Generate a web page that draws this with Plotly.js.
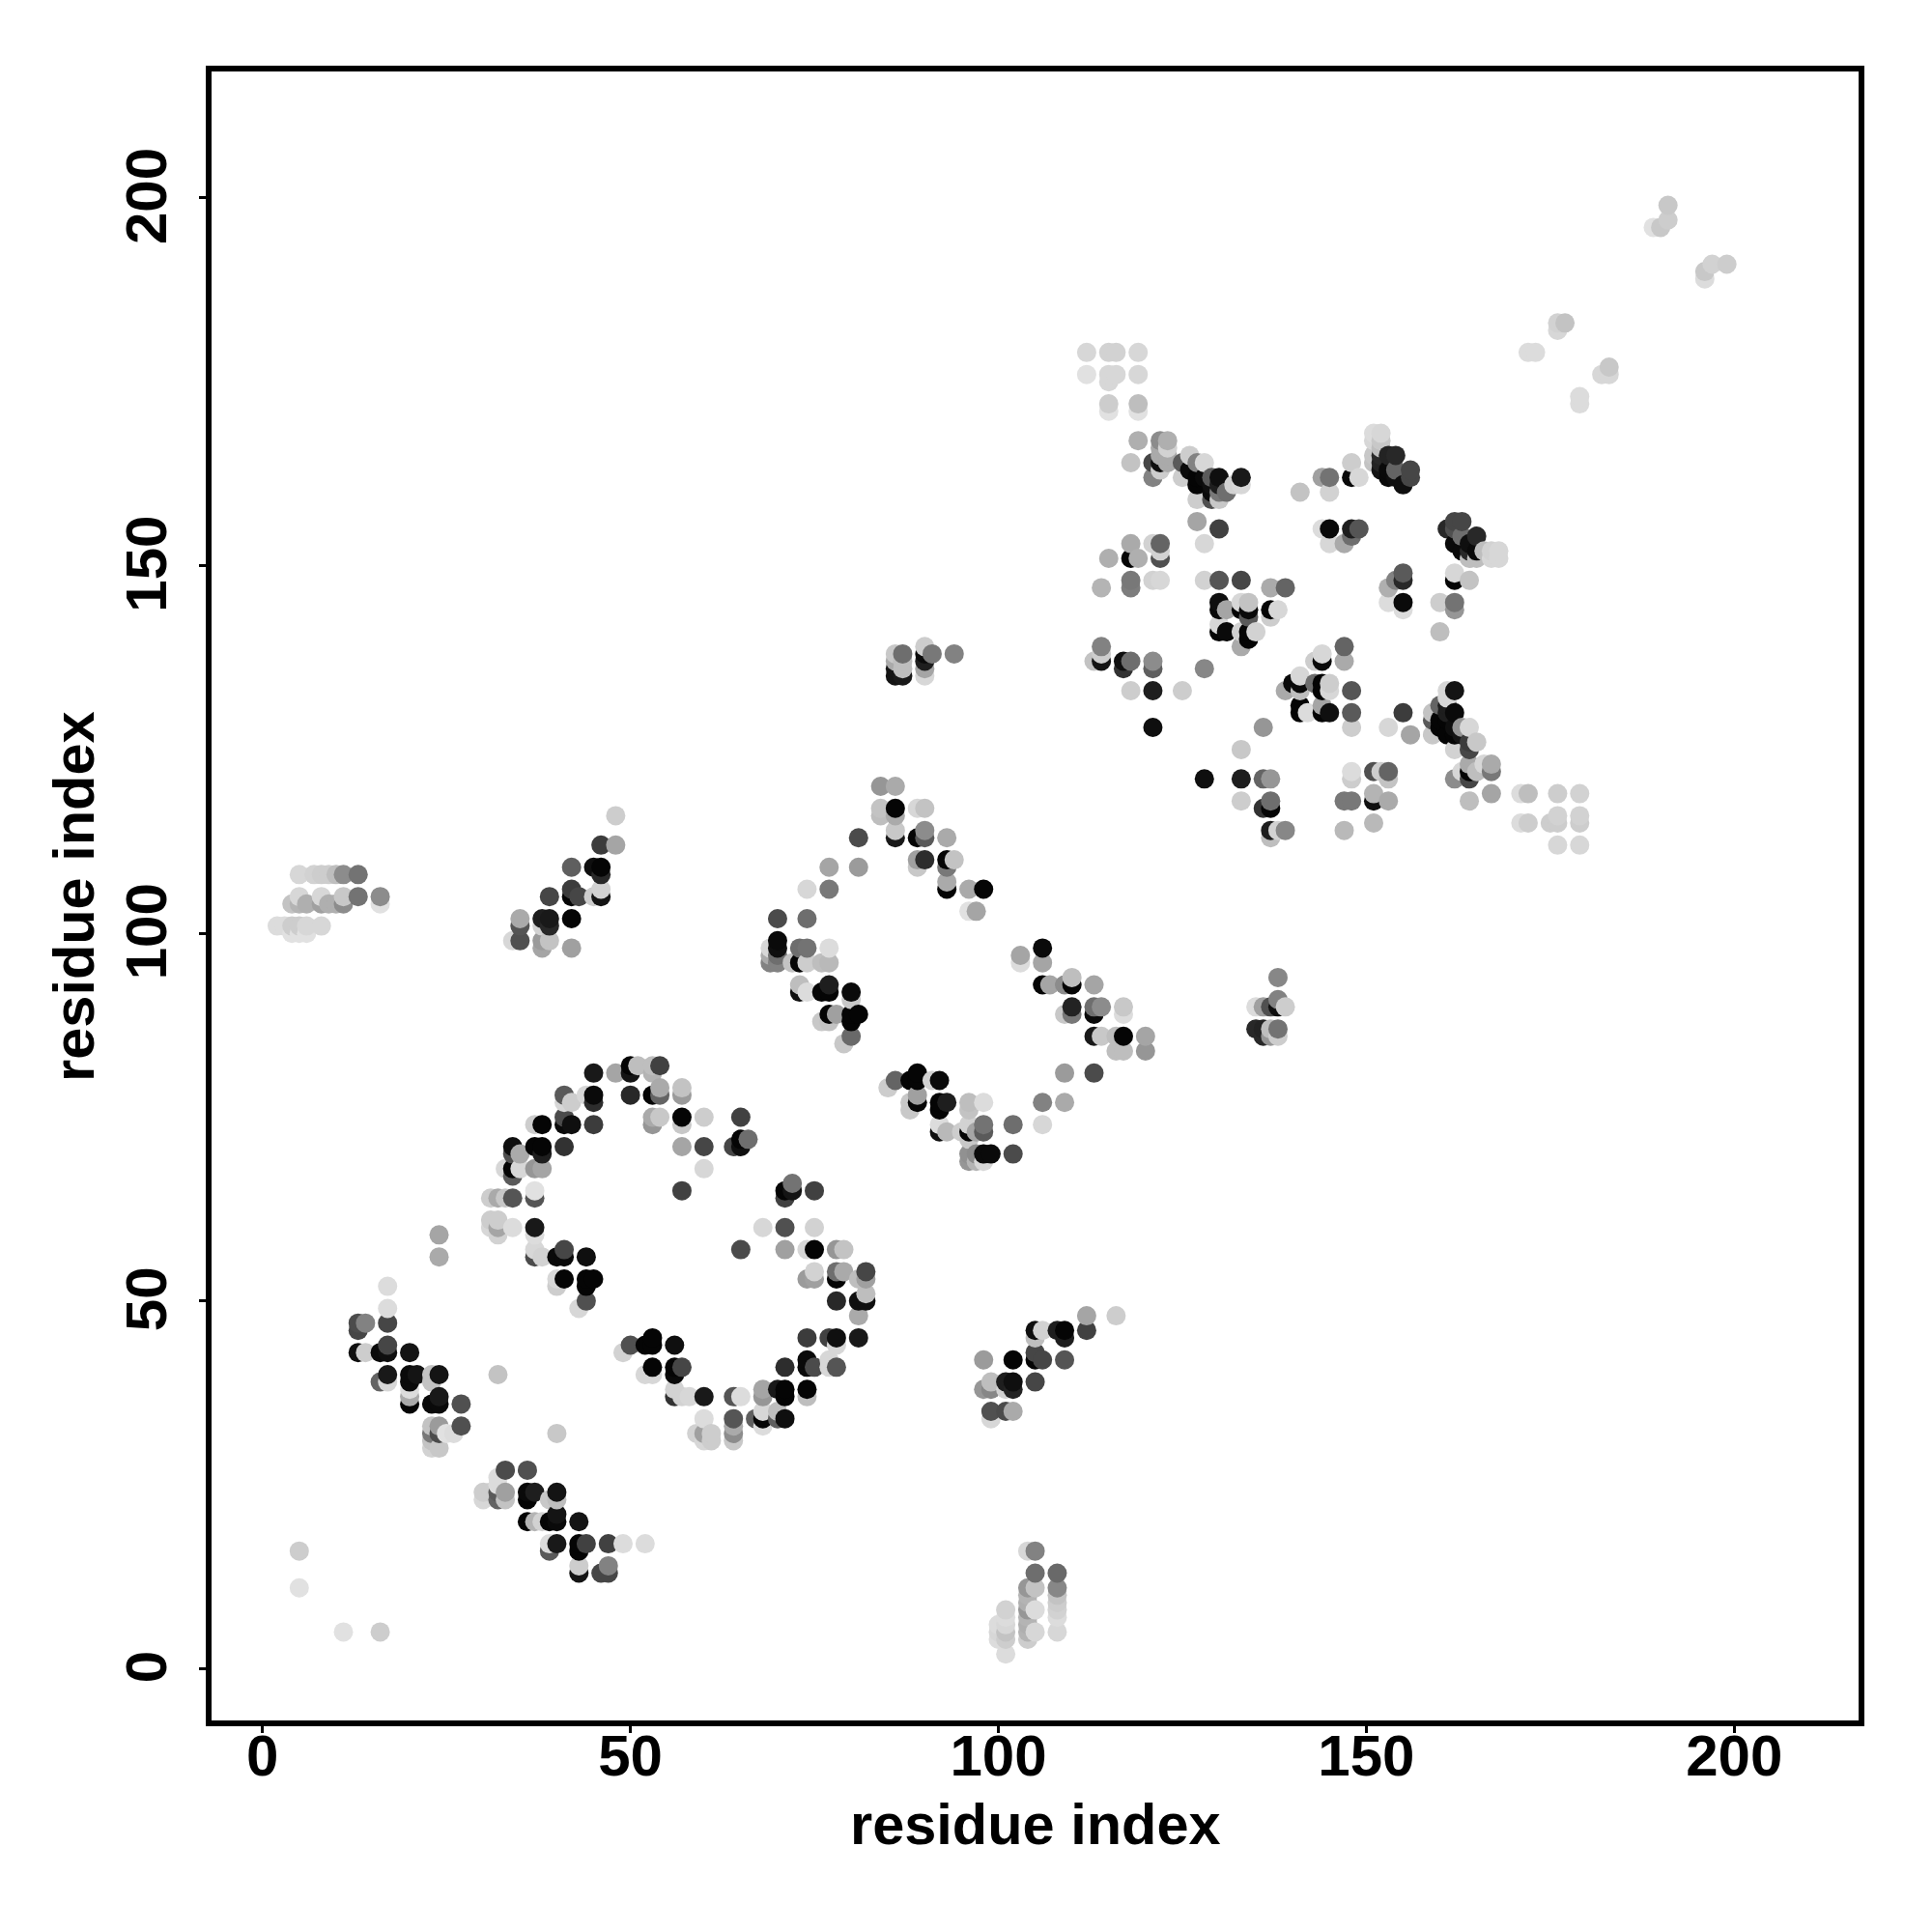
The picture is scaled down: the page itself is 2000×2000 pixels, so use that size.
<!DOCTYPE html>
<html><head><meta charset="utf-8">
<script src="https://cdn.plot.ly/plotly-3.0.1.min.js"></script>
<style>html,body{margin:0;padding:0;background:#fff}</style></head>
<body><div id="chart" style="width:2000px;height:2000px"></div>
<script>
// each entry: [residue i, residue j, grey level]
const lowLeftArm = [[24,59,165],[24,56,170],[17,52,220],[17,49,220],[17,47,70],[13,47,75],[13,46,70],[14,47,130],[13,43,15],[14,43,205],[16,43,10],[17,43,15],[17,44,70],[20,43,20],[17,40,25],[16,39,100],[17,39,215],[20,40,10],[21,40,20],[20,39,10],[20,38,220],[20,37,170],[20,36,5],[23,40,195],[23,39,195],[24,40,20],[23,36,10],[24,36,10],[24,37,25],[27,36,80],[27,33,80],[23,33,195],[24,33,155],[23,32,120],[24,32,75],[25,32,225],[26,32,220],[23,30,210],[24,30,200],[23,31,195]];
const lowStrand = [[32,40,195],[40,32,200],[33,27,75],[36,27,80],[32,26,220],[32,25,220],[30,24,205],[30,23,215],[31,24,205],[32,24,90],[32,23,100],[33,24,160],[33,23,195],[36,24,10],[37,24,30],[36,23,5],[39,23,200],[40,24,20],[40,23,190],[36,20,5],[37,20,180],[38,20,210],[39,20,5],[40,20,10],[40,21,20],[43,20,20],[39,17,220],[40,17,25],[39,16,90],[43,17,5],[43,16,5],[44,17,65],[47,17,65],[49,17,220],[52,17,220],[43,14,205],[43,13,20],[46,13,70],[47,13,70],[47,14,130],[5,16,205],[5,11,225],[11,5,225],[16,5,205]];
const innerRing = [[31,61,205],[32,61,205],[31,60,215],[32,60,165],[32,59,210],[34,60,220],[37,60,25],[37,59,220],[37,57,215],[37,56,75],[38,56,210],[40,56,10],[41,56,10],[41,57,70],[44,56,15],[40,53,215],[40,52,205],[41,53,5],[44,53,5],[45,53,5],[44,52,5],[44,50,80],[43,49,215],[49,43,210],[50,44,80],[52,44,5],[53,44,5],[53,45,5],[56,44,15],[53,41,5],[52,40,215],[53,40,215],[56,41,5],[56,40,10],[57,41,70]];
const upperRing = [[45,81,25],[48,81,165],[50,82,5],[50,81,20],[51,82,190],[53,82,190],[53,81,180],[54,82,65],[41,78,90],[41,77,215],[42,77,205],[44,78,215],[45,78,10],[45,77,45],[50,78,40],[53,78,5],[54,78,100],[54,79,170],[57,79,195],[57,78,155],[37,74,205],[38,74,5],[41,75,75],[41,74,10],[42,74,15],[45,74,60],[53,75,170],[53,74,150],[54,75,200],[57,75,5],[57,74,200],[60,75,205],[65,75,65],[34,71,15],[34,70,80],[35,70,170],[37,71,5],[38,71,5],[38,70,30],[41,71,50],[57,71,165],[60,71,70],[64,71,70],[65,72,5],[65,71,15],[66,72,110],[33,68,215],[34,68,5],[34,67,90],[35,68,215],[37,68,150],[38,68,165],[60,68,215],[31,64,205],[32,64,170],[33,64,200],[34,64,85],[37,64,85],[37,65,225],[57,65,65]];
const rightRing = [[71,65,5],[71,64,65],[72,66,115],[72,65,20],[75,65,65],[68,60,215],[71,60,80],[75,60,210],[65,57,75],[71,57,160],[74,57,215],[75,57,5],[78,57,150],[79,57,195],[74,53,155],[75,53,160],[75,54,210],[78,54,110],[78,53,5],[79,54,170],[81,53,190],[82,54,70],[82,53,160],[78,50,40],[81,50,15],[82,50,15],[82,51,190],[81,48,170],[74,45,60],[77,45,65],[78,45,15],[78,44,215],[81,45,25],[74,42,10],[74,41,10],[75,41,75],[77,42,215],[77,41,215],[78,41,85],[71,41,45]];
const lowerRing = [[74,38,5],[74,37,190],[71,38,5],[70,38,25],[71,37,5],[68,38,165],[68,37,150],[70,35,190],[71,34,15],[70,34,95],[68,35,215],[67,34,95],[68,34,5],[68,33,220],[64,37,85],[65,37,220],[60,37,25],[58,37,215],[56,38,210],[57,37,210],[56,37,50],[64,34,85],[64,33,170],[64,32,140],[64,31,200],[60,34,220],[59,32,210],[60,32,160],[61,32,205],[60,31,215],[61,31,205]];
const secondLoopTop = [[84,120,150],[86,120,170],[84,117,195],[84,116,190],[86,117,5],[86,116,170],[89,117,215],[90,117,195],[81,113,75],[77,109,165],[81,109,155],[74,106,215],[77,106,120],[86,114,200],[86,113,25],[89,113,5],[90,113,90],[90,114,140],[93,113,170],[89,110,160],[89,109,200],[90,110,45],[93,110,5],[93,109,120],[94,110,195],[93,107,170],[93,106,5],[96,106,170],[98,106,5],[96,103,225],[97,103,165]];
const secondLoopLeft = [[70,102,75],[74,102,110],[70,99,10],[70,98,15],[69,98,215],[69,97,170],[70,97,110],[69,96,130],[70,96,130],[73,98,110],[74,98,115],[77,98,220],[72,96,195],[73,96,5],[74,96,205],[76,96,190],[77,96,185],[73,93,190],[73,92,15],[74,92,220],[76,92,5],[77,92,5],[77,93,30],[80,92,10],[80,91,200],[76,88,200],[77,89,5],[77,88,195],[78,89,160],[80,89,5],[81,89,5],[80,88,5],[80,86,105],[79,85,200]];
const secondLoopBottom = [[86,80,100],[85,79,205],[88,80,5],[89,80,5],[89,81,5],[91,80,210],[92,80,10],[89,78,160],[89,77,5],[88,77,200],[88,76,200],[92,77,5],[92,76,5],[93,77,30],[96,77,190],[96,76,195],[98,77,220],[92,74,220],[92,73,15],[93,73,185],[95,73,205],[96,73,5],[97,73,165],[98,74,115],[98,73,90],[96,74,210],[96,72,200],[96,70,145],[96,69,150],[97,70,140],[97,69,180],[98,70,10],[99,70,10],[98,69,215],[102,70,75],[102,74,110],[106,74,215],[106,77,130],[109,77,170],[109,81,155],[113,81,75]];
const secondLoopRight = [[103,97,165],[103,96,220],[106,98,10],[106,96,165],[106,93,5],[107,93,165],[109,93,140],[110,94,190],[110,93,5],[113,93,165],[109,89,200],[110,90,35],[110,89,120],[113,90,110],[113,89,10],[114,90,140],[117,90,200],[117,89,220],[113,86,25],[114,86,200],[116,86,190],[117,86,5],[120,86,165],[116,84,190],[117,84,190],[120,84,150]];
const topLeftBlock = [[112,179,215],[115,179,210],[116,179,210],[119,179,215],[112,176,225],[115,176,215],[116,176,215],[119,176,215],[115,175,215],[115,172,205],[115,171,225],[119,172,190],[119,171,225],[119,167,175],[122,167,140],[123,167,175],[123,166,210],[122,166,170],[122,165,170],[123,165,170],[118,164,195],[121,164,70],[122,164,15],[123,164,170],[122,163,205],[121,162,130]];
const diagonalCluster = [[125,164,90],[126,165,205],[125,162,205],[126,163,10],[127,164,130],[128,164,215],[127,162,5],[127,161,5],[128,162,10],[129,162,90],[130,162,15],[129,161,15],[130,161,30],[131,160,110],[132,161,210],[133,162,25],[133,161,215],[127,159,205],[129,159,80],[130,159,200],[129,160,10],[130,160,120],[127,156,165],[130,155,65],[128,153,215],[141,160,195],[144,162,160],[145,162,115],[145,160,210],[148,164,205],[148,162,10],[149,162,215]];
const peakCluster = [[151,168,220],[152,168,215],[151,167,215],[152,167,200],[151,165,200],[151,164,195],[152,166,190],[152,165,40],[153,165,35],[154,165,40],[152,164,35],[153,162,10],[154,163,100],[155,161,15],[154,162,15],[156,163,70],[156,162,70],[153,163,10],[152,163,20],[144,155,220],[145,155,10],[148,155,30],[149,155,85],[145,153,215],[147,153,170],[148,154,110]];
const shoulderCluster = [[161,155,40],[162,156,70],[163,156,70],[162,155,80],[162,153,10],[163,154,110],[165,154,40],[164,153,15],[165,152,10],[166,152,190],[164,151,190],[165,151,190],[167,152,210],[168,152,215],[167,151,215],[168,151,215],[163,152,10],[164,152,40],[155,149,90],[155,148,40],[154,148,130],[153,147,175],[153,145,220],[155,145,10],[155,144,220],[162,149,215],[162,148,5],[164,148,195],[160,145,205],[162,145,115],[162,144,150],[160,141,190]];
const centreLeft = [[118,153,170],[121,153,210],[122,153,100],[115,151,175],[118,151,5],[119,151,175],[122,151,80],[122,152,210],[114,147,180],[118,148,120],[118,147,125],[121,148,210],[122,148,215],[114,139,130],[113,137,195],[114,137,20],[114,138,205],[117,137,15],[117,136,50],[118,137,110],[121,137,140],[121,136,95],[118,133,205],[121,133,30],[125,133,205],[121,128,15],[136,128,150],[133,125,200],[128,136,135]];
const centreMiddle = [[128,148,210],[130,148,85],[133,148,70],[137,147,170],[139,147,100],[130,145,15],[130,144,10],[131,144,165],[133,145,215],[133,144,5],[134,145,195],[134,144,10],[134,143,90],[137,144,5],[138,144,215],[137,143,205],[130,142,215],[130,141,5],[131,141,10],[133,141,210],[134,141,5],[134,140,5],[135,141,210],[133,139,170]];
const centreRight = [[147,139,100],[147,137,170],[144,138,215],[143,137,205],[144,137,10],[141,135,215],[140,134,10],[141,134,10],[139,133,170],[141,133,190],[143,134,110],[144,134,5],[145,134,205],[144,133,5],[145,133,215],[148,133,85],[141,131,5],[141,130,5],[142,130,220],[144,131,165],[144,130,5],[145,130,15],[148,130,90],[148,128,205],[153,128,215],[155,130,60],[156,127,165]];
const lowerCluster = [[161,133,215],[162,133,20],[161,132,215],[159,130,195],[160,131,100],[161,131,30],[162,130,10],[161,130,30],[159,129,90],[160,129,5],[161,129,5],[159,127,200],[160,128,5],[161,127,5],[162,128,15],[162,127,5],[163,128,150],[163,127,20],[164,128,215],[164,126,60],[165,126,200],[162,125,210],[164,125,70]];
const bandTwoLeft = [[128,121,15],[133,121,30],[136,121,100],[137,121,150],[133,118,205],[136,117,50],[137,117,5],[137,118,110],[137,114,30],[138,114,210],[137,113,190],[139,114,135]];
const bandTwoMiddle = [[148,122,220],[148,121,205],[151,122,80],[152,122,205],[153,122,100],[153,121,195],[147,118,120],[148,118,120],[151,119,180],[151,118,15],[153,118,170],[151,115,185],[147,114,185]];
const bandTwoRight = [[162,121,140],[163,122,215],[164,123,170],[164,122,5],[164,121,70],[165,122,190],[166,123,215],[167,123,170],[167,122,120],[167,119,165],[164,118,190],[171,119,220],[172,119,190],[176,119,205],[179,119,210],[171,115,220],[172,115,205],[175,115,205],[176,116,210],[176,115,205],[179,116,210],[179,115,205],[176,112,215],[179,112,215]];
const smallPatch = [[138,94,135],[138,91,130],[135,90,220],[136,90,160],[137,90,80],[138,90,15],[139,90,205],[135,87,40],[136,87,35],[137,87,190],[138,87,115],[136,86,40],[137,86,150],[138,86,205]];
const leftBand = [[5,108,215],[7,108,210],[8,108,205],[9,108,205],[10,108,190],[11,108,140],[13,108,115],[5,105,215],[8,105,215],[11,105,200],[13,105,115],[16,105,140],[16,104,225],[4,104,195],[5,104,180],[6,104,175],[8,104,160],[9,104,175],[10,104,175],[11,104,140],[2,101,220],[3,101,220],[4,101,205],[5,101,205],[6,101,215],[8,101,215],[4,100,225],[5,100,225],[6,100,225]];
const shortDiagonal = [[48,116,205],[48,112,165],[46,112,60],[42,109,95],[45,109,15],[46,109,5],[46,108,40],[42,106,60],[42,105,5],[43,105,70],[39,105,70],[45,105,205],[46,106,210],[46,105,20],[35,102,170],[35,101,85],[38,102,30],[39,102,25],[38,101,210],[39,101,40],[42,102,5],[34,99,215],[35,99,80],[38,99,155],[39,99,195],[38,98,165],[42,98,160]];
const midDiagonal = [[112,48,165],[116,48,205],[112,46,65],[109,46,5],[108,46,30],[109,45,30],[105,46,15],[106,46,210],[105,45,190],[98,42,155],[102,42,5],[105,43,70],[105,42,5],[106,42,70],[109,42,85],[99,39,190],[98,38,150],[99,38,135],[101,39,30],[102,39,15],[102,38,35],[101,38,210],[105,39,70],[99,35,80],[101,35,75],[102,35,170],[99,34,215]];
const bottomColumns = [[104,16,215],[105,16,130],[105,13,110],[108,13,105],[108,11,135],[105,11,195],[104,11,150],[104,10,180],[104,9,175],[104,8,150],[105,8,220],[104,7,180],[104,6,175],[104,5,180],[105,5,215],[104,4,205],[108,10,195],[108,9,205],[108,8,210],[108,7,220],[108,5,215],[101,8,210],[101,7,220],[100,6,220],[101,6,215],[100,5,215],[101,5,195],[100,4,220],[101,4,205],[101,2,220]];
const upperLeftPatch = [[87,138,110],[86,138,200],[86,137,170],[86,136,20],[87,136,190],[87,135,25],[86,135,20],[87,137,190],[90,139,205],[91,138,120],[90,138,10],[90,137,30],[90,136,165],[90,135,215],[94,138,130]];
const topRightTail = [[191,199,200],[191,197,205],[190,196,200],[189,196,225],[197,191,210],[199,191,205],[196,190,200],[196,189,220],[177,183,195],[176,183,210],[176,182,215],[172,179,220],[173,179,220],[183,177,200],[182,176,215],[183,176,215],[179,173,220],[179,172,220]];

const tickValues = [0,50,100,150,200];
const tickLabels = ['0','50','100','150','200'];
const xTitle = 'residue index';
const yTitle = 'residue index';

const contacts = [].concat(lowLeftArm,lowStrand,innerRing,upperRing,rightRing,lowerRing,secondLoopTop,secondLoopLeft,secondLoopBottom,secondLoopRight,topLeftBlock,diagonalCluster,peakCluster,shoulderCluster,centreLeft,centreMiddle,centreRight,lowerCluster,bandTwoLeft,bandTwoMiddle,bandTwoRight,smallPatch,leftBand,shortDiagonal,midDiagonal,bottomColumns,upperLeftPatch,topRightTail)
  .sort((a,b)=>a[0]-b[0]||a[1]-b[1]);

const family = '"Liberation Sans", Arial, sans-serif';
const tickFont = {family:family,size:60,weight:700,color:'#000'};
const titleFont = {family:family,size:59.5,weight:700,color:'#000'};
Plotly.newPlot('chart',[{
  type:'scatter', mode:'markers',
  x:contacts.map(c=>c[0]), y:contacts.map(c=>c[1]),
  marker:{size:20, line:{width:0}, color:contacts.map(c=>`rgb(${c[2]},${c[2]},${c[2]})`)},
  hoverinfo:'x+y'
}],{
  width:2000,height:2000,showlegend:false,
  paper_bgcolor:'#fff',plot_bgcolor:'#fff',
  margin:{l:219,r:75.5,t:74,b:218.5,pad:0},
  xaxis:{range:[-6.92,216.9],tickmode:'array',tickvals:tickValues,ticktext:tickLabels,
    showgrid:false,zeroline:false,showline:true,mirror:true,linewidth:6,linecolor:'#000',
    ticks:'outside',ticklen:7,tickwidth:3,tickcolor:'#000',tickangle:0,ticklabelstandoff:-28,
    tickfont:tickFont,automargin:false},
  yaxis:{range:[-7.03,217.2],tickmode:'array',tickvals:tickValues,ticktext:tickLabels,
    showgrid:false,zeroline:false,showline:true,mirror:true,linewidth:6,linecolor:'#000',
    ticks:'outside',ticklen:7,tickwidth:3,tickcolor:'#000',tickangle:-90,ticklabelstandoff:10,ticklabelshift:7,
    tickfont:tickFont,automargin:false},
  annotations:[
    {text:xTitle,xref:'paper',yref:'paper',x:0.5,y:-0.0632,xanchor:'center',yanchor:'middle',showarrow:false,font:titleFont},
    {text:yTitle,xref:'paper',yref:'paper',x:-0.0836,y:0.5,xanchor:'center',yanchor:'middle',textangle:-90,showarrow:false,font:titleFont}
  ]
},{staticPlot:true,displayModeBar:false});
</script></body></html>
